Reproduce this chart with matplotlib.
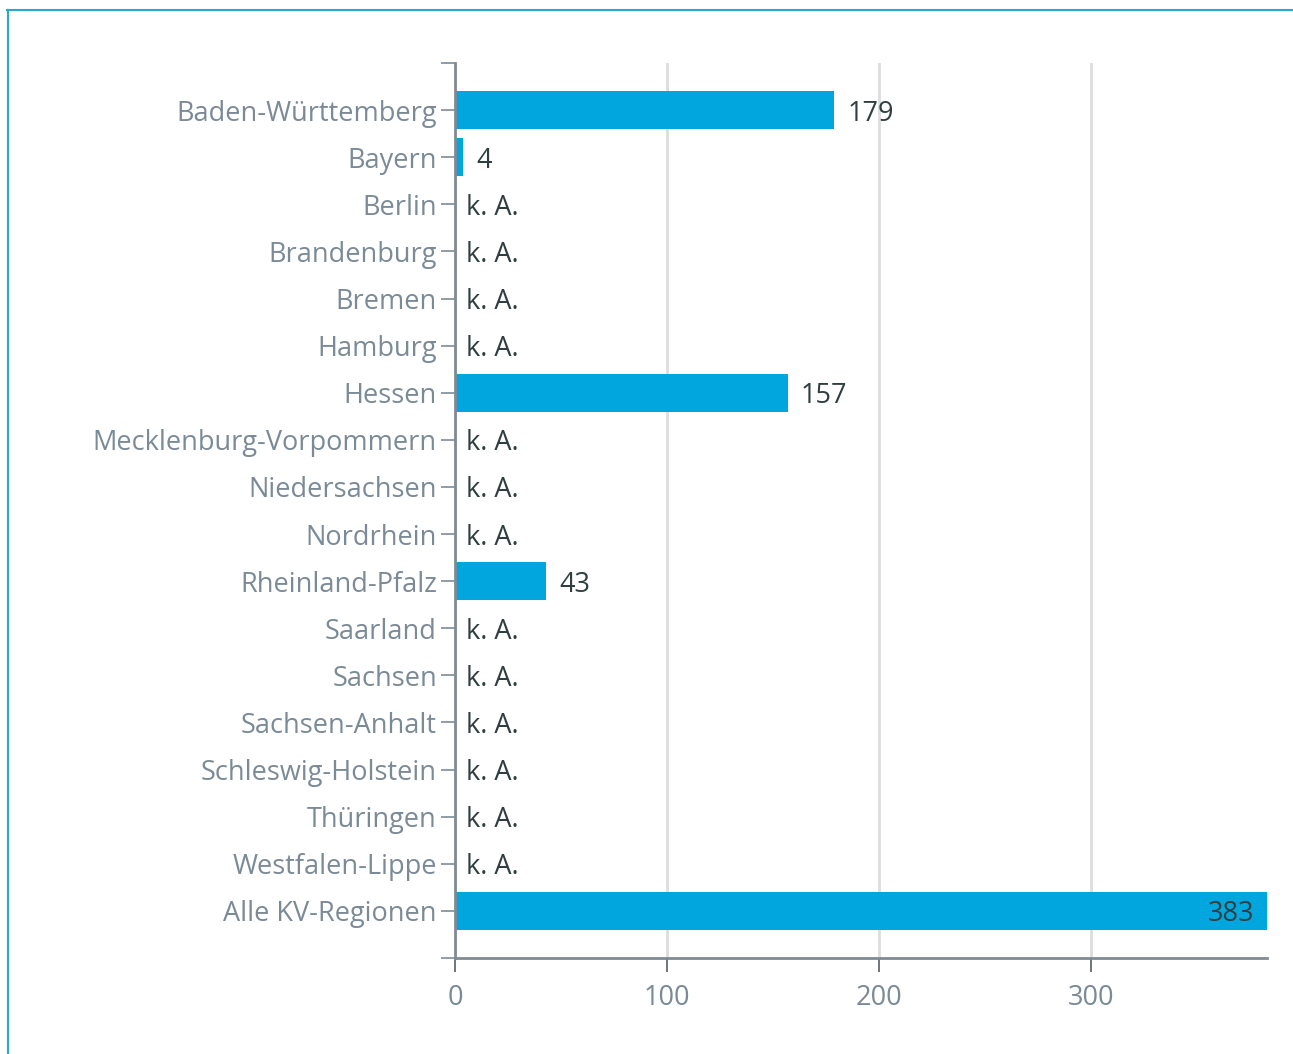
import matplotlib.pyplot as plt
from matplotlib.lines import Line2D

regions = ["Baden-Württemberg", "Bayern", "Berlin", "Brandenburg", "Bremen",
           "Hamburg", "Hessen", "Mecklenburg-Vorpommern", "Niedersachsen",
           "Nordrhein", "Rheinland-Pfalz", "Saarland", "Sachsen",
           "Sachsen-Anhalt", "Schleswig-Holstein", "Thüringen",
           "Westfalen-Lippe", "Alle KV-Regionen"]
values = [179, 4, None, None, None, None, 157, None, None, None, 43,
          None, None, None, None, None, None, 383]
x_ticks = [0, 100, 200, 300]

plt.rcParams['font.family'] = ['Open Sans', 'DejaVu Sans']

bar_color = "#00a6dd"
label_gray = "#7a8a96"
value_dark = "#2f3f3f"
axis_gray = "#7f8b95"
fs = 19.5

fig = plt.figure(figsize=(12.93, 10.54), dpi=100)
ax = fig.add_axes([455 / 1293, 1 - 958 / 1054, 812 / 1293, 895 / 1054])

xmax = 383
for i, v in enumerate(values):
    if v is None:
        ax.text(5, i, "k. A.", va="center_baseline", ha="left", fontsize=fs, color=value_dark)
        continue
    ax.barh(i, v, height=0.8, color=bar_color, zorder=3)
    if v > 0.9 * xmax:
        ax.text(v - 6, i, str(v), va="center_baseline", ha="right", fontsize=fs,
                color=value_dark, zorder=4)
    else:
        ax.text(v + 6, i, str(v), va="center_baseline", ha="left", fontsize=fs,
                color=value_dark, zorder=4)

ax.set_xlim(0, xmax)
ax.set_ylim(18, -1)
ax.set_yticks(range(len(regions)))
ax.set_yticklabels(regions, va="center_baseline")
ax.set_yticks([-1, 18], minor=True)
ax.set_xticks(x_ticks)
ax.set_xticklabels([str(t) for t in x_ticks])

ax.tick_params(axis="y", which="both", length=10, width=1.2, color=axis_gray,
               labelsize=fs, labelcolor=label_gray, pad=3)
ax.tick_params(axis="x", length=10, width=1.2, color="#555f66",
               labelsize=fs, labelcolor=label_gray, pad=9)

ax.grid(axis="x", color="#dddddd", linewidth=2, zorder=0)
ax.set_axisbelow(True)
for s in ["top", "right"]:
    ax.spines[s].set_visible(False)
for s in ["left", "bottom"]:
    ax.spines[s].set_color(axis_gray)
    ax.spines[s].set_linewidth(2)
    ax.spines[s].set_zorder(5)

# thin frame lines at top and left of the figure
fig.add_artist(Line2D([7 / 1293, 1], [1 - 10 / 1054, 1 - 10 / 1054],
                      color="#2aa7d2", linewidth=1.5, transform=fig.transFigure))
fig.add_artist(Line2D([7.5 / 1293, 7.5 / 1293], [0, 1 - 10 / 1054],
                      color="#2aa7d2", linewidth=1.5, transform=fig.transFigure))

fig.savefig("out.png", dpi=100)
